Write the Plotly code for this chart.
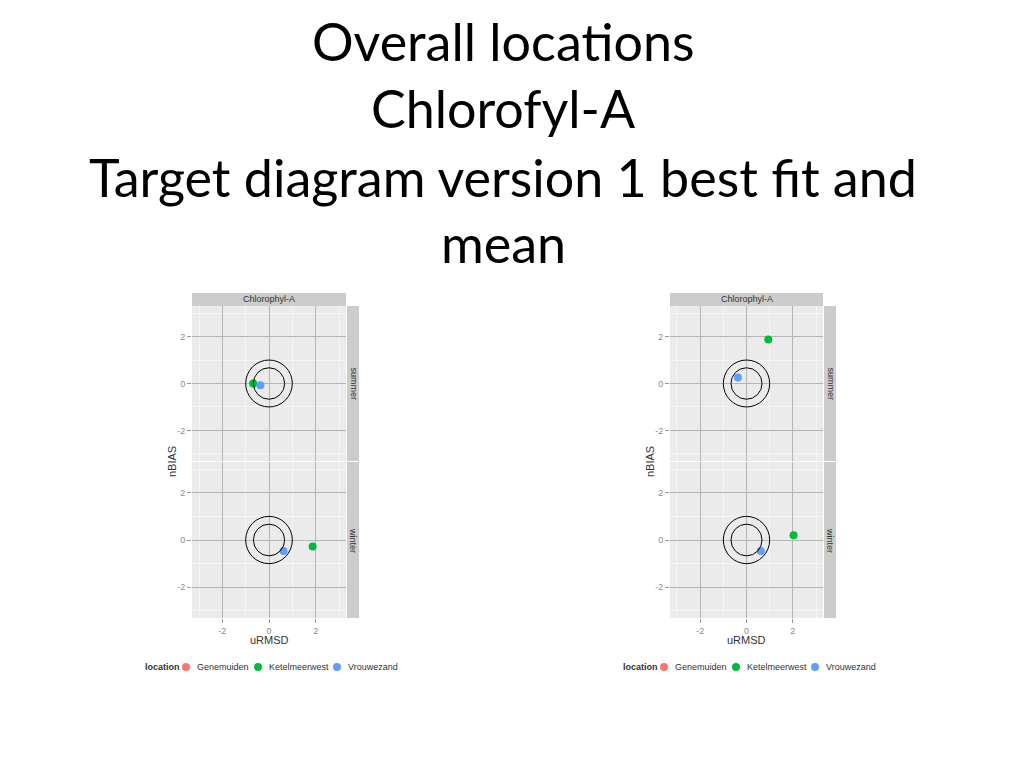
import plotly.graph_objects as go

# ---------------- data ----------------
title_lines = ["Overall locations", "Chlorofyl-A", "Target diagram version 1 best fit and", "mean"]
locations = ["Genemuiden", "Ketelmeerwest", "Vrouwezand"]
loc_colors = ["#F8766D", "#00BA38", "#619CFF"]
seasons = ["summer", "winter"]
strip_title = "Chlorophyl-A"
legend_title = "location"
tick_vals = [-2, 0, 2]
tick_text = ["-2", "0", "2"]
circle_radii = [1.0, 0.67]

# chart 1 (left): uRMSD / nBIAS per season per location (None = not present)
left_summer_x = [None, -0.68, -0.37]
left_summer_y = [None, 0.00, -0.07]
left_winter_x = [None, 1.87, 0.62]
left_winter_y = [None, -0.27, -0.47]
# chart 2 (right)
right_summer_x = [None, 0.94, -0.37]
right_summer_y = [None, 1.87, 0.26]
right_winter_x = [None, 2.03, 0.62]
right_winter_y = [None, 0.20, -0.47]

W, H = 1024, 768
def px(x): return x / W
def py(y): return 1 - y / H

fig = go.Figure()

charts = [
    dict(x0=192, x1=346, data=[(left_summer_x, left_summer_y), (left_winter_x, left_winter_y)],
         leg_x=[143, 186, 258, 337]),
    dict(x0=670, x1=823, data=[(right_summer_x, right_summer_y), (right_winter_x, right_winter_y)],
         leg_x=[621, 664, 736, 815]),
]
panel_rows = [(306, 461), (462, 618)]

FONT = "Liberation Sans, Arial, sans-serif"
axis_idx = 0
shapes = []
annotations = []
layout_axes = {}
for ci, ch in enumerate(charts):
    for si, (ptop, pbot) in enumerate(panel_rows):
        axis_idx += 1
        xa = "x" if axis_idx == 1 else f"x{axis_idx}"
        ya = "y" if axis_idx == 1 else f"y{axis_idx}"
        xk = "xaxis" if axis_idx == 1 else f"xaxis{axis_idx}"
        yk = "yaxis" if axis_idx == 1 else f"yaxis{axis_idx}"
        common = dict(range=[-3.3, 3.3], tickvals=tick_vals, ticktext=tick_text,
                      showgrid=True, gridcolor="#B5B5B5", gridwidth=1,
                      minor=dict(dtick=1, tick0=1, showgrid=True, gridcolor="#F5F5F5", gridwidth=1),
                      zeroline=False, showline=False, ticks="outside", ticklen=4,
                      tickcolor="#999999", tickfont=dict(family=FONT, size=9, color="#8C8C8C"),
                      fixedrange=True)
        layout_axes[xk] = dict(common, domain=[px(ch["x0"]), px(ch["x1"])], anchor=ya,
                               showticklabels=(si == 1), ticks=("outside" if si == 1 else ""))
        layout_axes[yk] = dict(common, domain=[py(pbot), py(ptop)], anchor=xa)
        # reference circles
        for r in circle_radii:
            shapes.append(dict(type="circle", xref=xa, yref=ya, x0=-r, x1=r, y0=-r, y1=r,
                               line=dict(color="black", width=1), layer="above"))
        xs, ys = ch["data"][si]
        for li, loc in enumerate(locations):
            fig.add_trace(go.Scatter(
                x=[xs[li]], y=[ys[li]], xaxis=xa, yaxis=ya, mode="markers", name=loc,
                marker=dict(color=loc_colors[li], size=8), showlegend=False, cliponaxis=False))
        # right strip
        shapes.append(dict(type="rect", xref="paper", yref="paper",
                           x0=px(ch["x1"] + 1), x1=px(ch["x1"] + 13), y0=py(pbot), y1=py(ptop),
                           fillcolor="#CCCCCC", line=dict(width=0)))
        annotations.append(dict(xref="paper", yref="paper", x=px(ch["x1"] + 7), y=py((ptop + pbot) / 2),
                                xanchor="center", yanchor="middle",
                                text=seasons[si], textangle=90, showarrow=False,
                                font=dict(family=FONT, size=9, color="#333333")))
    # top strip
    shapes.append(dict(type="rect", xref="paper", yref="paper",
                       x0=px(ch["x0"]), x1=px(ch["x1"]), y0=py(306), y1=py(293),
                       fillcolor="#CCCCCC", line=dict(width=0)))
    annotations.append(dict(xref="paper", yref="paper", x=px((ch["x0"] + ch["x1"]) / 2), y=py(299.5),
                            xanchor="center", yanchor="middle",
                            text=strip_title, showarrow=False,
                            font=dict(family=FONT, size=9, color="#333333")))
    # axis titles
    annotations.append(dict(xref="paper", yref="paper", x=px(ch["x0"] - 20), y=py(462),
                            xanchor="center", yanchor="middle",
                            text="nBIAS", textangle=-90, showarrow=False,
                            font=dict(family=FONT, size=11, color="#333333")))
    annotations.append(dict(xref="paper", yref="paper", x=px((ch["x0"] + ch["x1"]) / 2), y=py(640),
                            xanchor="center", yanchor="middle",
                            text="uRMSD", showarrow=False,
                            font=dict(family=FONT, size=11, color="#333333")))
    # legend (drawn manually)
    lx = ch["leg_x"]
    annotations.append(dict(xref="paper", yref="paper", x=px(lx[0]), y=py(667),
                            xanchor="left", yanchor="middle", text="<b>" + legend_title + "</b>",
                            showarrow=False, font=dict(family=FONT, size=9, color="#333333")))
    for li, loc in enumerate(locations):
        cx = lx[li + 1]
        shapes.append(dict(type="circle", xref="paper", yref="paper",
                           x0=px(cx - 4), x1=px(cx + 4), y0=py(667 + 4), y1=py(667 - 4),
                           fillcolor=loc_colors[li], line=dict(width=0)))
        annotations.append(dict(xref="paper", yref="paper", x=px(cx + 9), y=py(667),
                                xanchor="left", yanchor="middle", text=loc, showarrow=False,
                                font=dict(family=FONT, size=9, color="#333333")))

# title lines
title_y = [41, 108, 177, 243]
for t, yy in zip(title_lines, title_y):
    annotations.append(dict(xref="paper", yref="paper", x=px(503), y=py(yy), text=t, showarrow=False,
                            xanchor="center", yanchor="middle",
                            font=dict(family="Lato, Open Sans, sans-serif", size=52, color="black")))

fig.update_layout(
    width=W, height=H, margin=dict(l=0, r=0, t=0, b=0),
    paper_bgcolor="white", plot_bgcolor="#EBEBEB",
    shapes=shapes, annotations=annotations, showlegend=False,
    **layout_axes,
)

fig.write_html("out.html", config={"displayModeBar": False},
               post_script="document.body.style.margin='0px';")
